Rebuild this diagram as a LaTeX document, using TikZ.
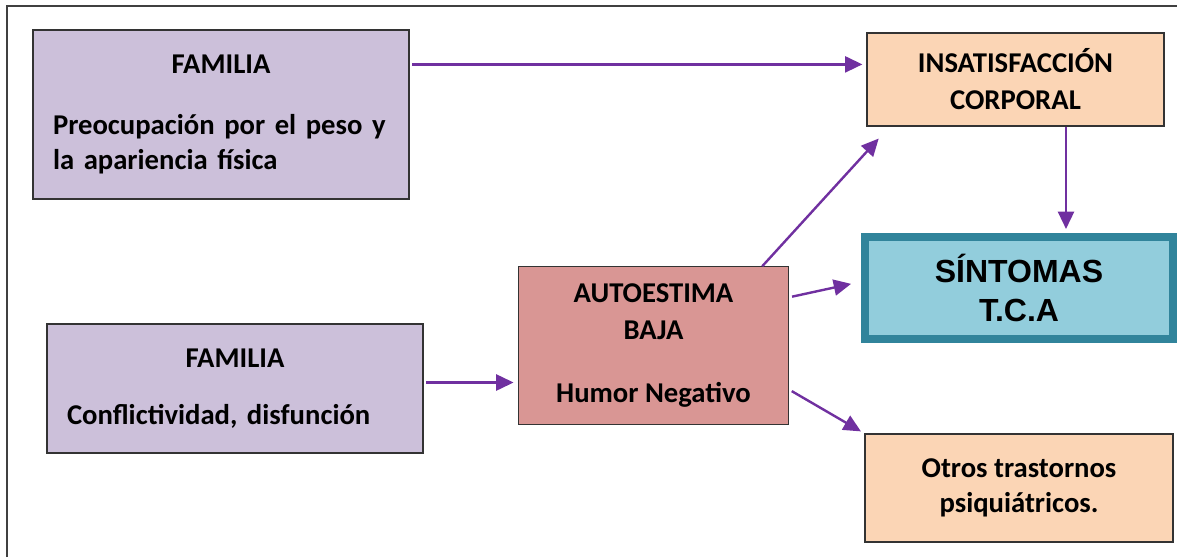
\documentclass[tikz,border=0pt]{standalone}
\usepackage{fontspec}
\setmainfont{Carlito}
\newfontfamily\sintfont{Liberation Sans}
\usetikzlibrary{arrows.meta,positioning,calc}
\definecolor{ffam}{HTML}{CCC0DA}
\definecolor{fauto}{HTML}{D99694}
\definecolor{fpeach}{HTML}{FBD5B5}
\definecolor{fsint}{HTML}{92CDDC}
\definecolor{fsintline}{HTML}{31849B}
\definecolor{fpurple}{HTML}{7030A0}

\begin{document}
\begin{tikzpicture}[x=0.75pt, y=-0.75pt,
  font=\bfseries\fontsize{21.5}{26.25}\selectfont,
  box/.style={draw=black!80, line width=0.9pt, rectangle, inner sep=0pt, align=center},
  fambox/.style={box, fill=ffam, align=left, text width=252pt, inner xsep=15pt, minimum height=#1},
  autobox/.style={box, fill=fauto, minimum width=203pt, minimum height=118pt},
  peachbox/.style={box, fill=fpeach, minimum width=#1},
  sintbox/.style={box, draw=fsintline, line width=6pt, fill=fsint, minimum width=231pt,
    minimum height=76.5pt, font=\sintfont\bfseries\fontsize{24}{29}\selectfont},
  arr/.style={draw=fpurple, line width=1.8pt, -{Triangle[length=13pt,width=12pt]},
    shorten <=2pt, shorten >=3pt}]
\useasboundingbox (0,0) rectangle (1177,557);
% frame
\draw[black!75, line width=1.5pt] (7,557) -- (7,6) -- (1177,6);
% ---------------- boxes ----------------
\node[fambox=126.75pt] (fam1) at (221,114.5)
  {{\centering FAMILIA\par}\vspace{20pt}Preocupación por el peso y\\la apariencia física};
\node[fambox=96.75pt] (fam2) at (235,388.5)
  {{\centering FAMILIA\par}\vspace{16pt}Conflictividad, disfunción};
\node[autobox] (auto) at (653.5,345.5) {AUTOESTIMA\\[2pt]BAJA\\[21pt]Humor Negativo};
\node[peachbox=222.75pt, minimum height=69.75pt] (insat) at (1015.5,79.5)
  {INSATISFACCIÓN\\[1.5pt]CORPORAL};
\node[sintbox] (sint) at (1019,288) {SÍNTOMAS\\T.C.A};
\node[peachbox=231pt, minimum height=81pt] (otros) at (1019,488)
  {Otros trastornos\\psiquiátricos.};
% ---------------- arrows ----------------
\coordinate (famtop) at ($(fam1.north east)+(0,35)$);
\coordinate (famlow) at ($(fam2.east)+(0,-6)$);
\coordinate (insatdown) at ($(insat.south)+(50.5,0)$);
\draw[arr] (famtop) -- (famtop -| insat.west);
\draw[arr] (famlow) -- (famlow -| auto.west);
\draw[arr, shorten <=0pt] ($(auto.north east)!0.1!(auto.north west)$) -- ($(insat.south west)+(15,9)$);
\draw[arr] ($(auto.north east)+(0,31)$) -- ($(sint.west)+(-6,-5)$);
\draw[arr] ($(auto.south east)+(0,-35)$) -- (otros.north west);
\draw[arr, shorten <=0pt] (insatdown) -- (insatdown |- sint.north);
\end{tikzpicture}
\end{document}
